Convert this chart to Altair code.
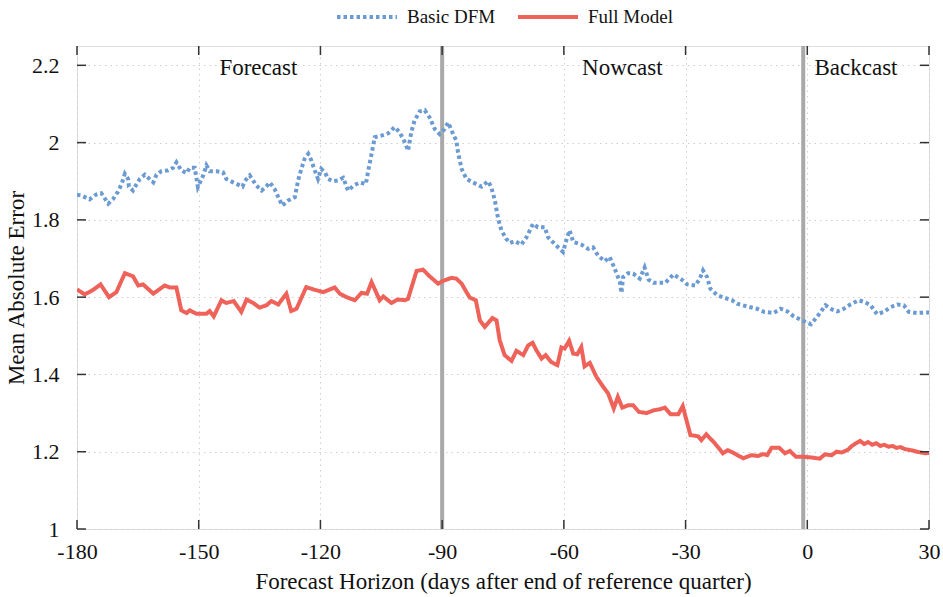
import altair as alt
import pandas as pd

series_names = ["Basic DFM", "Full Model"]

dfm_days = [-180, -178.9, -176.9, -175.4, -174.0, -172.3, -171.1, -169.9, -169.0, -168.2, -167.4, -167.2,
            -166.2, -165.4, -164.5, -163.3, -161.2, -160.4, -159.2, -157.5, -156.3, -155.5, -154.3, -153.0,
            -152.2, -151.0, -150.7, -150.2, -148.9, -148.1, -147.3, -145.6, -144.0, -143.2, -141.5, -139.2,
            -138.7, -137.4, -135.8, -134.5, -133.3, -132.5, -131.3, -130.4, -129.4, -128.0, -126.3, -125.5,
            -124.7, -123.9, -123.0, -122.2, -121.4, -120.6, -119.8, -118.9, -118.1, -116.9, -115.6, -114.4,
            -113.2, -111.8, -110.3, -108.8, -108.2, -107.4, -106.6, -105.0, -103.3, -101.7, -100.5, -99.2,
            -98.4, -97.6, -96.8, -95.5, -94.3, -93.1, -91.8, -90.6, -89.4, -88.5, -87.3, -86.5, -86.1, -85.2,
            -84.0, -82.4, -80.3, -78.7, -77.9, -77.0, -76.2, -75.4, -74.2, -73.3, -72.1, -70.5, -69.2, -67.6,
            -66.4, -64.7, -63.9, -62.3, -60.2, -59.4, -58.6, -57.7, -55.7, -54.0, -52.8, -51.6, -49.9, -48.7,
            -47.8, -47.0, -46.2, -45.8, -45.4, -44.2, -42.9, -41.3, -40.1, -39.1, -37.9, -35.0, -33.0, -30.9,
            -29.6, -27.6, -26.5, -25.7, -24.7, -23.9, -22.2, -20.6, -18.5, -17.3, -14.8, -12.4, -10.7, -8.3,
            -6.6, -4.9, -3.3, -1.3, 0.9, 2.4, 4.5, 6.1, 7.4, 9.0, 10.6, 12.7, 14.3, 15.6, 17.2, 18.9, 20.5,
            22.2, 23.8, 25.0, 27.1, 28.7, 30]
dfm_vals = [1.865, 1.863, 1.853, 1.865, 1.869, 1.842, 1.854, 1.873, 1.893, 1.919, 1.906, 1.886,
            1.876, 1.891, 1.906, 1.917, 1.897, 1.917, 1.926, 1.928, 1.935, 1.949, 1.928, 1.921,
            1.935, 1.935, 1.917, 1.885, 1.915, 1.941, 1.926, 1.926, 1.923, 1.906, 1.897, 1.886,
            1.900, 1.915, 1.889, 1.876, 1.887, 1.897, 1.880, 1.859, 1.837, 1.850, 1.859, 1.902,
            1.932, 1.958, 1.971, 1.953, 1.928, 1.906, 1.932, 1.923, 1.906, 1.900, 1.902, 1.909,
            1.876, 1.889, 1.897, 1.893, 1.928, 1.971, 2.014, 2.018, 2.024, 2.040, 2.027, 2.001,
            1.979, 2.027, 2.057, 2.081, 2.084, 2.065, 2.035, 2.022, 2.035, 2.052, 2.022, 2.005, 1.975, 1.932,
            1.906, 1.897, 1.886, 1.900, 1.885, 1.850, 1.803, 1.773, 1.751, 1.740, 1.745, 1.736, 1.755, 1.790,
            1.781, 1.781, 1.755, 1.738, 1.717, 1.747, 1.773, 1.743, 1.736, 1.725, 1.729, 1.708, 1.693, 1.704,
            1.682, 1.662, 1.639, 1.611, 1.652, 1.662, 1.661, 1.648, 1.677, 1.645, 1.637, 1.637, 1.659, 1.645,
            1.633, 1.630, 1.648, 1.669, 1.652, 1.622, 1.605, 1.599, 1.592, 1.583, 1.576, 1.570, 1.562, 1.559,
            1.570, 1.563, 1.550, 1.540, 1.530, 1.549, 1.579, 1.568, 1.563, 1.570, 1.581, 1.592, 1.587, 1.579,
            1.556, 1.562, 1.574, 1.581, 1.579, 1.562, 1.559, 1.560, 1.560]

full_days = [-180, -178.1, -176.0, -174.2, -172.1, -170.3, -168.2, -166.2, -164.9, -163.7, -161.2, -158.4,
             -157.1, -155.5, -154.3, -153.0, -152.2, -150.6, -148.1, -147.3, -146.3, -144.4, -143.2, -141.4,
             -139.5, -138.2, -136.6, -135.0, -133.3, -132.1, -130.4, -128.4, -127.2, -125.9, -123.5, -121.4,
             -119.3, -116.5, -115.2, -113.6, -111.5, -109.9, -108.5, -107.4, -105.4, -104.5, -102.5, -100.9,
             -99.2, -98.4, -96.3, -94.7, -93.1, -91.0, -89.8, -87.7, -86.5, -85.2, -84.0, -83.2, -81.7, -80.7,
             -79.5, -77.6, -76.6, -75.8, -74.6, -72.9, -71.7, -70.0, -68.8, -67.7, -66.8, -65.5, -64.5, -63.1,
             -61.6, -60.6, -59.8, -58.7, -57.7, -56.7, -55.7, -54.9, -53.6, -52.0, -50.3, -49.1, -47.7, -46.7,
             -45.6, -44.2, -42.9, -41.5, -39.6, -37.9, -36.3, -35.1, -33.7, -31.8, -30.7, -28.8, -26.9, -26.1,
             -24.9, -22.8, -20.8, -19.6, -18.2, -15.8, -13.8, -12.1, -10.9, -9.9, -8.8, -6.9, -5.5, -4.3, -2.8,
             -1.0, 1.1, 3.1, 4.3, 6.0, 7.2, 8.5, 10, 11, 12, 13, 14, 15, 16, 17, 18, 19, 20, 21, 22, 23, 24,
             25, 26, 27, 28, 29, 30]
full_vals = [1.620, 1.607, 1.619, 1.633, 1.600, 1.613, 1.662, 1.654, 1.630, 1.633, 1.609, 1.630,
             1.625, 1.625, 1.566, 1.559, 1.566, 1.557, 1.557, 1.564, 1.550, 1.592, 1.585, 1.590,
             1.562, 1.594, 1.585, 1.573, 1.579, 1.590, 1.581, 1.609, 1.564, 1.570, 1.626, 1.619,
             1.613, 1.625, 1.609, 1.600, 1.592, 1.611, 1.609, 1.639, 1.592, 1.602, 1.585, 1.594,
             1.592, 1.596, 1.668, 1.671, 1.654, 1.635, 1.642, 1.650, 1.648, 1.635, 1.613, 1.599, 1.592, 1.540,
             1.523, 1.546, 1.540, 1.488, 1.450, 1.435, 1.461, 1.450, 1.475, 1.482, 1.463, 1.441, 1.450, 1.432,
             1.424, 1.470, 1.467, 1.487, 1.454, 1.452, 1.471, 1.421, 1.430, 1.394, 1.368, 1.351, 1.312, 1.342,
             1.314, 1.320, 1.320, 1.303, 1.300, 1.307, 1.310, 1.314, 1.297, 1.297, 1.318, 1.243, 1.240, 1.230,
             1.245, 1.222, 1.196, 1.204, 1.197, 1.183, 1.191, 1.189, 1.194, 1.191, 1.210, 1.210, 1.196, 1.202, 1.187,
             1.187, 1.185, 1.182, 1.193, 1.191, 1.200, 1.198, 1.205, 1.215, 1.222, 1.228, 1.220, 1.225, 1.218,
             1.222, 1.215, 1.218, 1.213, 1.215, 1.210, 1.212, 1.207, 1.205, 1.203, 1.200, 1.198, 1.196, 1.197]

x_ticks = [-180, -150, -120, -90, -60, -30, 0, 30]
y_ticks = [1.0, 1.2, 1.4, 1.6, 1.8, 2.0, 2.2]
divider_days = [-90, -1]
region_labels = ["Forecast", "Nowcast", "Backcast"]
region_label_days = [-135.3, -45.6, 12.0]

BLUE = "#6b9bd2"
RED = "#ee6259"
FONT = "Liberation Serif"
W, H = 852, 483

rows = []
for d, v in zip(dfm_days, dfm_vals):
    rows.append({"series": series_names[0], "day": d, "mae": v})
for d, v in zip(full_days, full_vals):
    rows.append({"series": series_names[1], "day": d, "mae": v})
df = pd.DataFrame(rows)

xs = alt.Scale(domain=[-180, 30], nice=False, zero=False)
ys = alt.Scale(domain=[1.0, 2.25], nice=False, zero=False)

x_axis = alt.Axis(values=x_ticks, labelExpr="toString(datum.value)", tickSize=0, labelPadding=12,
                  labelFontSize=22, labelFont=FONT, labelColor="#111",
                  title="Forecast Horizon (days after end of reference quarter)",
                  titleFont=FONT, titleFontSize=23, titleFontWeight="normal", titleColor="#111",
                  titlePadding=8, domain=False, grid=True, gridColor="#cfcfcf", gridDash=[1.5, 4],
                  gridWidth=1, labelFlush=False)
y_axis = alt.Axis(values=y_ticks, labelExpr="toString(datum.value)", tickSize=0, labelPadding=18,
                  labelFontSize=22, labelFont=FONT, labelColor="#111", title="Mean Absolute Error",
                  titleFont=FONT, titleFontSize=23, titleFontWeight="normal", titleColor="#111",
                  titleX=-61, titleY=H / 2, titleBaseline="middle", titleAngle=270,
                  domain=False, grid=True,
                  gridColor="#cfcfcf", gridDash=[1.5, 4], gridWidth=1, labelFlush=False)

legend_kw = dict(title=None, orient="none", direction="horizontal", legendX=258, legendY=-61,
                 symbolType="stroke", symbolStrokeWidth=4, symbolSize=3600, labelFont=FONT,
                 labelFontSize=19, labelColor="#111", columnPadding=14, labelOffset=8, padding=0)

lines = alt.Chart(df).mark_line(strokeWidth=4, strokeCap="butt", clip=True).encode(
    x=alt.X("day:Q", scale=xs, axis=x_axis),
    y=alt.Y("mae:Q", scale=ys, axis=y_axis),
    color=alt.Color("series:N", scale=alt.Scale(domain=series_names, range=[BLUE, RED]),
                    legend=alt.Legend(**legend_kw)),
    strokeDash=alt.StrokeDash("series:N", scale=alt.Scale(domain=series_names, range=[[3.5, 3], [1, 0]]),
                              legend=alt.Legend(**legend_kw)),
    order=alt.Order("series:N", sort="descending"),
)

div_df = pd.DataFrame({"day": divider_days})
dividers = alt.Chart(div_df).mark_rule(color="#a9a9a9", strokeWidth=4).encode(
    x=alt.X("day:Q", scale=xs), y=alt.value(0), y2=alt.value(H))

lab_df = pd.DataFrame({"label": region_labels, "day": region_label_days})
labels = alt.Chart(lab_df).mark_text(font=FONT, fontSize=23, color="#111", baseline="middle").encode(
    x=alt.X("day:Q", scale=xs), y=alt.value(22), text="label:N")

xt_df = pd.DataFrame({"t": x_ticks})
yt_df = pd.DataFrame({"t": y_ticks})
tick_color = "#333"
xt_bot = alt.Chart(xt_df).mark_rule(color=tick_color, strokeWidth=1.5).encode(
    x=alt.X("t:Q", scale=xs), y=alt.value(H), y2=alt.value(H - 9))
xt_top = alt.Chart(xt_df).mark_rule(color=tick_color, strokeWidth=1.5).encode(
    x=alt.X("t:Q", scale=xs), y=alt.value(0), y2=alt.value(9))
yt_left = alt.Chart(yt_df).mark_rule(color=tick_color, strokeWidth=1.5).encode(
    y=alt.Y("t:Q", scale=ys), x=alt.value(0), x2=alt.value(9))
yt_right = alt.Chart(yt_df).mark_rule(color=tick_color, strokeWidth=1.5).encode(
    y=alt.Y("t:Q", scale=ys), x=alt.value(W), x2=alt.value(W - 9))

chart = alt.layer(dividers, lines, labels, xt_bot, xt_top, yt_left, yt_right).properties(
    width=W, height=H,
    autosize=alt.AutoSizeParams(type="none"),
    padding={"left": 77, "top": 46, "right": 14, "bottom": 68},
).configure_view(stroke="#3a3a3a", strokeWidth=1.6).configure(background="white")

chart.save("out.html", embed_options={"renderer": "svg", "actions": False})
